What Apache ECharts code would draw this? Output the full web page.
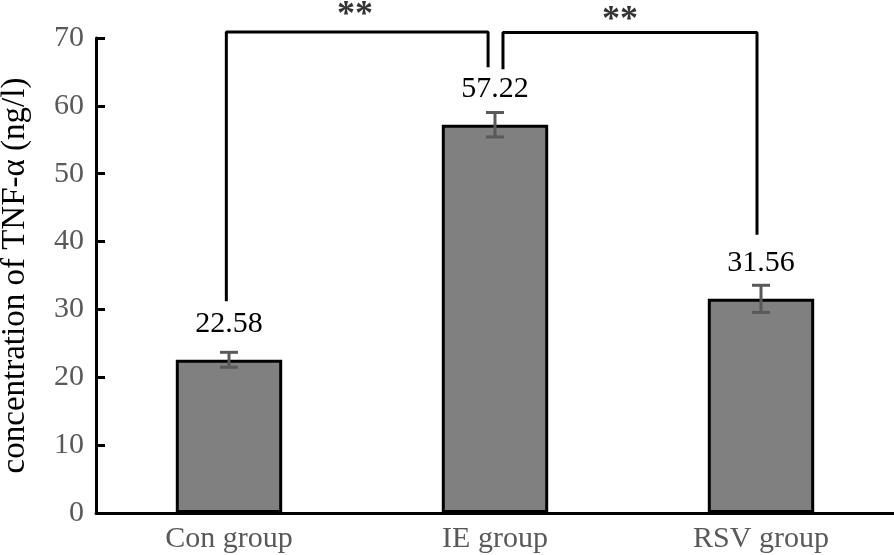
<!DOCTYPE html>
<html>
<head>
<meta charset="utf-8">
<script src="https://cdn.jsdelivr.net/npm/echarts@6/dist/echarts.min.js"></script>
<style>html,body{margin:0;padding:0;background:#fff}#c{width:894px;height:555px}</style>
</head>
<body>
<div id="c"></div>
<script>
const categories = ['Con group', 'IE group', 'RSV group'];
const means = [22.58, 57.22, 31.56];
const errors = [1.1, 1.8, 2.0];
const bracketLeft = [[0.49, 31.2], [0.49, 70.9], [1.474, 70.9], [1.474, 65.7]];
const bracketRight = [[1.53, 65.4], [1.53, 70.8], [2.485, 70.8], [2.485, 41.0]];
const stars = [[0.974, 73.3], [1.97, 72.5]];
const starText = '**';
const yName = 'concentration of TNF-α (ng/l)';

const FONT = "'Liberation Serif', 'Times New Roman', serif";
const chart = echarts.init(document.getElementById('c'));
chart.setOption({
  animation: false,
  grid: { left: 96, right: 0, top: 38, bottom: 42, containLabel: false, outerBoundsMode: 'none' },
  xAxis: [
    {
      type: 'category', data: categories,
      axisLine: { lineStyle: { color: '#000', width: 3 } },
      axisTick: { show: false },
      axisLabel: { color: '#595959', fontSize: 30, fontFamily: FONT, margin: 11 }
    },
    { type: 'value', min: 0, max: 3, show: false }
  ],
  yAxis: [{
    type: 'value', min: 0, max: 70, interval: 10,
    name: yName, nameLocation: 'middle', nameGap: 64,
    nameTextStyle: { color: '#000', fontSize: 33, fontFamily: FONT },
    axisLine: { show: true, lineStyle: { color: '#000', width: 3 } },
    axisTick: { show: true, inside: true, length: 9, lineStyle: { color: '#000', width: 3 } },
    splitLine: { show: false },
    axisLabel: { color: '#595959', fontSize: 30, fontFamily: FONT, margin: 12 }
  }],
  series: [
    {
      type: 'bar', data: means, barWidth: '40%',
      itemStyle: { color: '#808080', borderColor: '#000', borderWidth: 3 },
      label: {
        show: true, position: 'top', distance: 21, color: '#000',
        fontSize: 30, fontFamily: FONT, formatter: p => p.value.toFixed(2)
      }
    },
    {
      type: 'custom',
      data: means.map((m, i) => [i, m - errors[i], m + errors[i]]),
      renderItem: function (params, api) {
        const lo = api.coord([api.value(0), api.value(1)]);
        const hi = api.coord([api.value(0), api.value(2)]);
        const w = 9;
        const st = { stroke: '#595959', lineWidth: 3 };
        return {
          type: 'group', children: [
            { type: 'line', shape: { x1: lo[0], y1: lo[1], x2: hi[0], y2: hi[1] }, style: st },
            { type: 'line', shape: { x1: lo[0] - w, y1: lo[1], x2: lo[0] + w, y2: lo[1] }, style: st },
            { type: 'line', shape: { x1: hi[0] - w, y1: hi[1], x2: hi[0] + w, y2: hi[1] }, style: st }
          ]
        };
      },
      z: 5
    },
    {
      type: 'line', xAxisIndex: 1, data: bracketLeft, symbol: 'none', clip: false,
      lineStyle: { color: '#000', width: 3 }
    },
    {
      type: 'line', xAxisIndex: 1, data: bracketRight, symbol: 'none', clip: false,
      lineStyle: { color: '#000', width: 3 }
    },
    {
      type: 'scatter', xAxisIndex: 1, data: stars, symbolSize: 0, clip: false,
      label: {
        show: true, position: 'inside', formatter: starText, color: '#000',
        fontSize: 36, fontWeight: 'bold', fontFamily: FONT
      }
    }
  ]
});
</script>
</body>
</html>
